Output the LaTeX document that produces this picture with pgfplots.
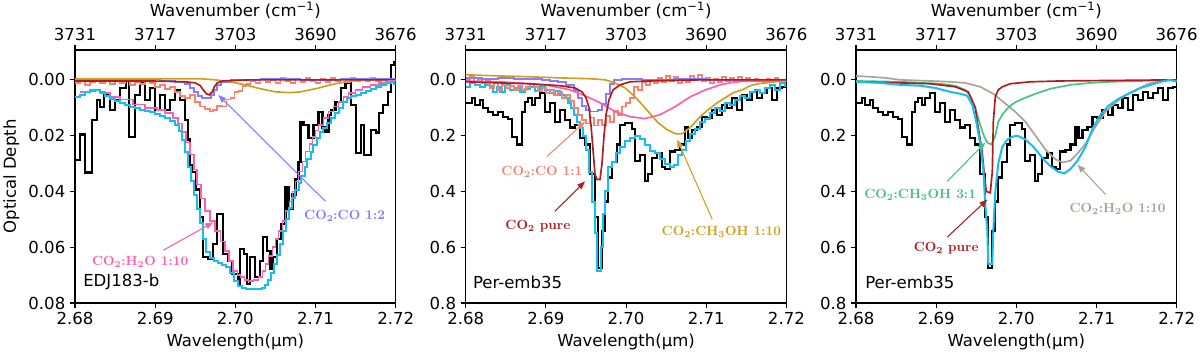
\documentclass[border=0pt]{standalone}
\usepackage{pgfplots}
\pgfplotsset{compat=1.18}
\usepackage{fontspec}
\setsansfont{DejaVu Sans}
\usetikzlibrary{arrows.meta}
\definecolor{cdata}{RGB}{0,0,0}
\definecolor{ccyan}{RGB}{20,190,240}
\definecolor{cpink}{RGB}{255,95,170}
\definecolor{csalmon}{RGB}{250,128,114}
\definecolor{clav}{RGB}{135,125,250}
\definecolor{cred}{RGB}{178,28,30}
\definecolor{cgold}{RGB}{205,160,30}
\definecolor{cgreen}{RGB}{70,195,130}
\definecolor{cgray}{RGB}{168,163,148}
\newcommand\axfont{\sffamily\fontsize{12.4}{14}\selectfont}
\newcommand\anfont{\rmfamily\bfseries\fontsize{10}{12}\selectfont}
\tikzset{ann/.style={line width=0.8pt, -{Triangle[length=6pt,width=4.5pt]}}}
\pgfplotsset{
 panel/.style={scale only axis, width=240.5pt, height=189.75pt,
  xmin=2.68, xmax=2.72, y dir=reverse,
  scaled x ticks=false, scaled y ticks=false,
  axis line style={line width=0.8pt},
  tick style={line width=0.8pt, black}, tick align=outside, major tick length=3.75pt,
  xtick pos=lower, ytick pos=left,
  xtick={2.68,2.69,2.70,2.71,2.72}, xticklabels={2.68,2.69,2.70,2.71,2.72},
  ticklabel style={font=\axfont}, label style={font=\axfont},
  xlabel={Wavelength(μm)}},
 toppanel/.style={scale only axis, width=240.5pt, height=189.75pt,
  xmin=2.68, xmax=2.72, axis y line=none, axis x line*=top, x axis line style={-},
  scaled x ticks=false,
  tick style={line width=0.8pt, black}, xtick align=outside, major tick length=3.75pt,
  xtick={2.68,2.69,2.70,2.71,2.72}, xticklabels={3731,3717,3703,3690,3676},
  ticklabel style={font=\axfont}, label style={font=\axfont},
  xlabel={Wavenumber (cm\textsuperscript{−1})}},
 dat/.style={const plot, line width=1.6pt, cdata},
}
\begin{document}
\begin{tikzpicture}
\useasboundingbox (0,0) rectangle (900pt,267.75pt);
% ================= Panel 1 =================
\begin{axis}[panel, at={(56.25pt,40.5pt)}, anchor=south west,
  ymin=-0.0107, ymax=0.08,
  ytick={0,0.02,0.04,0.06,0.08}, yticklabels={0.00,0.02,0.04,0.06,0.08},
  ylabel={Optical Depth}]
\addplot[dat] coordinates {
(2.68000,0.0286)(2.68063,0.0196)(2.68125,0.0332)(2.68213,0.0143)(2.68275,0.0071)
(2.68313,0.0096)(2.68363,0.0054)(2.68438,0.0107)(2.68500,0.0071)(2.68563,0.0029)
(2.68638,0.0000)(2.68675,0.0204)(2.68750,0.0054)(2.68813,0.0011)(2.68875,0.0071)
(2.68938,0.0029)(2.69000,0.0107)(2.69063,0.0054)(2.69125,0.0107)(2.69188,0.0071)
(2.69250,0.0036)(2.69313,0.0071)(2.69375,0.0143)(2.69413,0.0214)(2.69438,0.0304)
(2.69463,0.0329)(2.69513,0.0393)(2.69563,0.0493)(2.69600,0.0636)(2.69663,0.0643)
(2.69725,0.0589)(2.69775,0.0482)(2.69850,0.0625)(2.69913,0.0650)(2.69963,0.0696)
(2.70038,0.0732)(2.70063,0.0607)(2.70113,0.0625)(2.70150,0.0732)(2.70188,0.0636)
(2.70250,0.0707)(2.70313,0.0650)(2.70350,0.0564)(2.70400,0.0614)(2.70438,0.0679)
(2.70475,0.0636)(2.70525,0.0571)(2.70575,0.0518)(2.70625,0.0386)(2.70663,0.0464)
(2.70713,0.0411)(2.70750,0.0357)(2.70788,0.0293)(2.70813,0.0150)(2.70850,0.0161)
(2.70913,0.0207)(2.70975,0.0161)(2.71038,0.0114)(2.71088,0.0171)(2.71125,0.0186)
(2.71163,0.0125)(2.71188,0.0107)(2.71250,0.0079)(2.71313,0.0029)(2.71375,0.0011)
(2.71438,0.0089)(2.71500,0.0261)(2.71563,0.0161)(2.71600,0.0268)(2.71688,0.0179)
(2.71750,0.0189)(2.71788,0.0118)(2.71838,0.0089)(2.71900,0.0043)(2.71938,-0.0054)
(2.71975,-0.0064)(2.72000,-0.0064)};
\addplot[const plot, line width=1.25pt, csalmon] coordinates {
(2.68000,0.0011)(2.68063,0.0004)(2.68125,0.0018)(2.68188,0.0007)(2.68250,-0.0004)
(2.68313,0.0011)(2.68375,0.0004)(2.68438,0.0014)(2.68500,0.0000)(2.68563,0.0011)
(2.68625,0.0004)(2.68688,0.0018)(2.68750,0.0007)(2.68813,0.0014)(2.68875,0.0004)
(2.68938,0.0011)(2.69000,0.0025)(2.69063,0.0018)(2.69125,0.0032)(2.69188,0.0025)
(2.69250,0.0043)(2.69313,0.0057)(2.69375,0.0064)(2.69438,0.0054)(2.69500,0.0079)
(2.69563,0.0096)(2.69625,0.0104)(2.69688,0.0114)(2.69725,0.0107)(2.69775,0.0093)
(2.69838,0.0096)(2.69888,0.0071)(2.69938,0.0064)(2.69988,0.0043)(2.70038,0.0039)
(2.70088,0.0021)(2.70138,0.0014)(2.70188,0.0004)(2.70250,0.0011)(2.70313,-0.0004)
(2.70375,0.0007)(2.70438,0.0000)(2.70500,0.0011)(2.70563,-0.0007)(2.70625,0.0004)
(2.70688,0.0011)(2.70750,-0.0004)(2.70813,0.0007)(2.70875,-0.0007)(2.70938,0.0004)
(2.71000,0.0011)(2.71063,-0.0004)(2.71125,0.0007)(2.71188,-0.0007)(2.71250,0.0004)
(2.71313,-0.0004)(2.71375,0.0007)(2.71438,-0.0007)(2.71500,0.0004)(2.71563,-0.0004)
(2.71625,0.0004)(2.71688,-0.0007)(2.71750,0.0004)(2.71813,-0.0004)(2.71875,0.0007)
(2.71938,0.0000)(2.72000,0.0004)};
\addplot[const plot, line width=1.25pt, clav] coordinates {
(2.68000,-0.0004)(2.68313,0.0000)(2.68688,-0.0004)(2.69063,0.0004)(2.69250,0.0007)
(2.69375,0.0014)(2.69438,0.0029)(2.69488,0.0043)(2.69538,0.0057)(2.69588,0.0064)
(2.69663,0.0064)(2.69700,0.0054)(2.69738,0.0036)(2.69775,0.0018)(2.69825,0.0007)
(2.69938,0.0000)(2.70313,-0.0004)(2.70813,0.0000)(2.71313,-0.0004)(2.72000,0.0000)};
\addplot[line width=1.25pt, cgold] coordinates {
(2.68000,-0.0004)(2.69563,-0.0004)(2.69750,0.0000)(2.69938,0.0007)(2.70125,0.0018)
(2.70313,0.0032)(2.70500,0.0043)(2.70688,0.0046)(2.70813,0.0043)(2.71000,0.0032)
(2.71188,0.0018)(2.71375,0.0007)(2.71563,0.0000)(2.72000,0.0000)};
\addplot[line width=1.25pt, cred] coordinates {
(2.68000,0.0004)(2.68938,0.0004)(2.69375,0.0007)(2.69500,0.0011)(2.69563,0.0021)
(2.69600,0.0036)(2.69638,0.0050)(2.69675,0.0054)(2.69713,0.0043)(2.69738,0.0025)
(2.69775,0.0011)(2.69838,0.0004)(2.70188,0.0000)(2.72000,0.0000)};
\addplot[const plot, line width=1.25pt, cpink] coordinates {
(2.68063,0.0043)(2.68188,0.0036)(2.68313,0.0046)(2.68438,0.0061)(2.68563,0.0071)
(2.68725,0.0089)(2.68875,0.0100)(2.69025,0.0107)(2.69125,0.0118)(2.69225,0.0136)
(2.69288,0.0157)(2.69338,0.0186)(2.69388,0.0225)(2.69438,0.0268)(2.69488,0.0321)
(2.69525,0.0375)(2.69575,0.0425)(2.69625,0.0471)(2.69688,0.0507)(2.69750,0.0543)
(2.69813,0.0579)(2.69875,0.0614)(2.69925,0.0650)(2.69975,0.0686)(2.70025,0.0700)
(2.70063,0.0707)(2.70113,0.0718)(2.70163,0.0721)(2.70225,0.0718)(2.70288,0.0707)
(2.70338,0.0686)(2.70375,0.0661)(2.70413,0.0632)(2.70463,0.0600)(2.70500,0.0571)
(2.70538,0.0543)(2.70588,0.0507)(2.70625,0.0471)(2.70675,0.0436)(2.70713,0.0400)
(2.70750,0.0364)(2.70788,0.0329)(2.70838,0.0293)(2.70875,0.0257)(2.70925,0.0229)
(2.70963,0.0204)(2.71000,0.0182)(2.71038,0.0161)(2.71100,0.0136)(2.71163,0.0114)
(2.71225,0.0096)(2.71288,0.0079)(2.71350,0.0061)(2.71413,0.0046)(2.71500,0.0036)
(2.71588,0.0025)(2.71688,0.0018)(2.71788,0.0011)(2.71913,0.0004)(2.72000,0.0004)};
\addplot[const plot, line width=1.5pt, ccyan] coordinates {
(2.68000,0.0061)(2.68063,0.0054)(2.68125,0.0043)(2.68188,0.0039)(2.68250,0.0036)
(2.68313,0.0043)(2.68375,0.0057)(2.68438,0.0068)(2.68500,0.0075)(2.68563,0.0082)
(2.68625,0.0091)(2.68688,0.0098)(2.68750,0.0102)(2.68813,0.0109)(2.68875,0.0113)
(2.68938,0.0116)(2.69000,0.0123)(2.69063,0.0129)(2.69125,0.0137)(2.69188,0.0147)
(2.69250,0.0162)(2.69300,0.0182)(2.69338,0.0214)(2.69375,0.0257)(2.69413,0.0314)
(2.69450,0.0364)(2.69488,0.0414)(2.69525,0.0464)(2.69563,0.0514)(2.69600,0.0571)
(2.69638,0.0618)(2.69688,0.0639)(2.69738,0.0650)(2.69788,0.0657)(2.69838,0.0664)
(2.69888,0.0671)(2.69938,0.0693)(2.69988,0.0721)(2.70038,0.0739)(2.70088,0.0746)
(2.70138,0.0750)(2.70338,0.0746)(2.70375,0.0736)(2.70413,0.0718)(2.70450,0.0693)
(2.70488,0.0661)(2.70525,0.0629)(2.70563,0.0589)(2.70600,0.0543)(2.70638,0.0500)
(2.70675,0.0461)(2.70713,0.0425)(2.70750,0.0396)(2.70788,0.0371)(2.70825,0.0343)
(2.70863,0.0311)(2.70900,0.0282)(2.70938,0.0257)(2.70975,0.0232)(2.71013,0.0207)
(2.71050,0.0186)(2.71088,0.0171)(2.71138,0.0154)(2.71188,0.0136)(2.71238,0.0118)
(2.71288,0.0100)(2.71338,0.0079)(2.71388,0.0064)(2.71438,0.0057)(2.71500,0.0054)
(2.71563,0.0046)(2.71625,0.0039)(2.71688,0.0032)(2.71750,0.0025)(2.71813,0.0018)
(2.71875,0.0011)(2.71938,0.0007)(2.71975,0.0014)(2.72000,0.0014)};
\draw[ann, clav] (axis cs:2.71125,0.0436) -- (axis cs:2.69788,0.0054);
\node[clav, font=\anfont] at (axis cs:2.71363,0.0489) {CO\textsubscript{2}:CO 1:2};
\draw[ann, cpink] (axis cs:2.6910,0.0611) -- (axis cs:2.69725,0.0511);
\node[cpink, font=\anfont] at (axis cs:2.68813,0.0654) {CO\textsubscript{2}:H\textsubscript{2}O 1:10};
\node[anchor=west, font=\axfont, inner sep=0pt] at (axis cs:2.681,0.0725) {EDJ183-b};
\end{axis}
\begin{axis}[toppanel, at={(56.25pt,40.5pt)}, anchor=south west, ymin=0, ymax=1]
\end{axis}
% ================= Panel 2 =================
\begin{axis}[panel, at={(349.3pt,40.5pt)}, anchor=south west,
  ymin=-0.107, ymax=0.8,
  ytick={0,0.2,0.4,0.6,0.8}, yticklabels={0.0,0.2,0.4,0.6,0.8}]
\addplot[dat] coordinates {
(2.68000,0.082)(2.68075,0.064)(2.68113,0.089)(2.68175,0.071)(2.68213,0.100)
(2.68275,0.114)(2.68338,0.125)(2.68400,0.114)(2.68463,0.132)(2.68525,0.139)
(2.68575,0.204)(2.68638,0.232)(2.68700,0.114)(2.68738,0.079)(2.68775,0.064)
(2.68825,0.089)(2.68863,0.064)(2.68925,0.046)(2.68988,0.114)(2.69050,0.082)
(2.69113,0.150)(2.69175,0.107)(2.69238,0.143)(2.69300,0.171)(2.69363,0.161)
(2.69425,0.207)(2.69488,0.232)(2.69550,0.339)(2.69613,0.493)(2.69650,0.675)
(2.69700,0.543)(2.69738,0.436)(2.69775,0.350)(2.69825,0.293)(2.69888,0.232)
(2.69925,0.161)(2.69988,0.154)(2.70075,0.175)(2.70113,0.292)(2.70175,0.268)
(2.70238,0.364)(2.70275,0.339)(2.70325,0.279)(2.70388,0.261)(2.70450,0.311)
(2.70488,0.321)(2.70550,0.257)(2.70613,0.250)(2.70675,0.232)(2.70738,0.171)
(2.70775,0.207)(2.70825,0.179)(2.70888,0.168)(2.70950,0.132)(2.71013,0.136)
(2.71075,0.107)(2.71138,0.125)(2.71200,0.089)(2.71263,0.100)(2.71325,0.064)
(2.71388,0.107)(2.71450,0.054)(2.71513,0.071)(2.71575,0.043)(2.71638,0.064)
(2.71700,0.046)(2.71763,0.029)(2.71825,0.071)(2.71888,0.029)(2.71950,0.025)
(2.72000,0.025)};
\addplot[const plot, line width=1.5pt, ccyan] coordinates {
(2.68000,0.025)(2.68050,0.011)(2.68113,0.018)(2.68175,0.025)(2.68238,0.018)
(2.68300,0.021)(2.68338,0.043)(2.68388,0.025)(2.68425,0.043)(2.68488,0.018)
(2.68550,0.036)(2.68613,0.029)(2.68675,0.043)(2.68738,0.032)(2.68800,0.025)
(2.68863,0.039)(2.68925,0.021)(2.68988,0.036)(2.69050,0.046)(2.69113,0.039)
(2.69175,0.054)(2.69238,0.064)(2.69275,0.082)(2.69313,0.100)(2.69350,0.125)
(2.69388,0.150)(2.69425,0.171)(2.69463,0.200)(2.69500,0.250)(2.69538,0.329)
(2.69575,0.439)(2.69613,0.550)(2.69638,0.686)(2.69688,0.600)(2.69713,0.482)
(2.69738,0.400)(2.69775,0.311)(2.69825,0.293)(2.69875,0.261)(2.69925,0.239)
(2.69988,0.221)(2.70050,0.207)(2.70113,0.200)(2.70175,0.211)(2.70238,0.232)
(2.70300,0.254)(2.70363,0.264)(2.70425,0.282)(2.70488,0.300)(2.70550,0.314)
(2.70600,0.307)(2.70650,0.271)(2.70700,0.250)(2.70750,0.221)(2.70800,0.193)
(2.70863,0.175)(2.70925,0.150)(2.70988,0.139)(2.71050,0.118)(2.71113,0.100)
(2.71175,0.111)(2.71238,0.082)(2.71300,0.089)(2.71363,0.071)(2.71425,0.057)
(2.71488,0.064)(2.71550,0.043)(2.71613,0.036)(2.71675,0.046)(2.71738,0.029)
(2.71800,0.018)(2.71863,0.036)(2.71925,0.011)(2.71988,0.021)(2.72000,0.021)};
\addplot[const plot, line width=1.25pt, csalmon] coordinates {
(2.6800,0.000)(2.6805,-0.011)(2.6810,0.007)(2.6815,-0.004)(2.6820,0.011)
(2.6825,0.000)(2.6830,0.029)(2.6835,0.011)(2.6840,0.036)(2.6845,0.018)
(2.6850,0.029)(2.6855,0.021)(2.6860,0.036)(2.6865,0.021)(2.6870,0.036)
(2.6875,0.025)(2.6880,0.014)(2.6885,0.025)(2.6890,0.039)(2.6895,0.029)
(2.6900,0.046)(2.6905,0.036)(2.6910,0.054)(2.6915,0.043)(2.6920,0.064)
(2.6925,0.054)(2.6930,0.075)(2.6935,0.100)(2.6940,0.125)(2.6945,0.143)
(2.6950,0.157)(2.6955,0.135)(2.6960,0.164)(2.6965,0.143)(2.6970,0.161)
(2.6975,0.129)(2.6980,0.150)(2.6985,0.111)(2.6990,0.125)(2.6995,0.096)
(2.7000,0.082)(2.7005,0.064)(2.7010,0.025)(2.7015,0.036)(2.7020,0.007)
(2.7025,0.018)(2.7030,0.000)(2.7035,0.011)(2.7040,-0.007)(2.7045,0.007)
(2.7050,-0.014)(2.7055,0.004)(2.7060,-0.011)(2.7065,0.011)(2.7070,-0.004)
(2.7075,0.007)(2.7080,-0.014)(2.7085,0.000)(2.7090,-0.018)(2.7095,0.004)
(2.7100,-0.007)(2.7105,0.011)(2.7110,-0.004)(2.7115,0.007)(2.7120,-0.011)
(2.7125,0.004)(2.7130,-0.007)(2.7135,0.007)(2.7140,-0.011)(2.7145,0.000)
(2.7150,-0.007)(2.7155,0.004)(2.7160,-0.004)(2.7165,0.000)(2.7170,0.007)
(2.7175,-0.004)(2.7180,0.004)(2.7185,-0.007)(2.7190,0.000)(2.7195,0.004)
(2.7200,0.004)};
\addplot[const plot, line width=1.25pt, clav] coordinates {
(2.6800,-0.007)(2.6820,-0.004)(2.6840,-0.007)(2.6860,-0.004)(2.6880,-0.004)
(2.6895,0.000)(2.6905,0.004)(2.6915,0.007)(2.6925,0.018)(2.6935,0.036)
(2.6940,0.064)(2.6945,0.093)(2.6950,0.107)(2.6955,0.114)(2.6960,0.114)
(2.6965,0.107)(2.6970,0.086)(2.6975,0.050)(2.6980,0.014)(2.6985,0.000)
(2.6995,-0.004)(2.7020,0.000)(2.7060,-0.004)(2.7100,0.000)(2.7150,0.004)
(2.7200,0.004)};
\addplot[line width=1.25pt, cpink] coordinates {
(2.68000,0.004)(2.68425,0.007)(2.68800,0.014)(2.69050,0.021)(2.69300,0.036)
(2.69488,0.057)(2.69675,0.082)(2.69863,0.114)(2.70050,0.132)(2.70238,0.139)
(2.70425,0.125)(2.70613,0.096)(2.70800,0.061)(2.70988,0.036)(2.71175,0.018)
(2.71363,0.007)(2.71550,0.004)(2.72000,0.000)};
\addplot[line width=1.25pt, cgold] coordinates {
(2.68000,-0.018)(2.68425,-0.014)(2.68800,-0.011)(2.69175,-0.007)(2.69550,-0.004)
(2.69738,0.000)(2.69863,0.011)(2.69988,0.029)(2.70113,0.061)(2.70200,0.089)
(2.70300,0.121)(2.70400,0.154)(2.70513,0.179)(2.70613,0.193)(2.70700,0.193)
(2.70800,0.171)(2.70925,0.132)(2.71025,0.107)(2.71138,0.082)(2.71238,0.064)
(2.71338,0.046)(2.71450,0.036)(2.71550,0.021)(2.71650,0.014)(2.71863,0.007)
(2.72000,0.004)};
\addplot[line width=1.25pt, cred] coordinates {
(2.68000,0.007)(2.68425,0.011)(2.68800,0.014)(2.69175,0.021)(2.69363,0.029)
(2.69450,0.043)(2.69500,0.064)(2.69538,0.100)(2.69563,0.164)(2.69588,0.250)
(2.69613,0.340)(2.69638,0.357)(2.69675,0.357)(2.69700,0.300)(2.69725,0.200)
(2.69750,0.125)(2.69788,0.071)(2.69838,0.036)(2.69925,0.018)(2.70050,0.007)
(2.70300,0.004)(2.70925,0.000)(2.72000,0.000)};
\draw[ann, csalmon] (axis cs:2.69013,0.275) -- (axis cs:2.69488,0.150);
\node[csalmon, font=\anfont] at (axis cs:2.6895,0.329) {CO\textsubscript{2}:CO 1:1};
\draw[ann, cred] (axis cs:2.69113,0.471) -- (axis cs:2.69488,0.364);
\node[cred, font=\anfont] at (axis cs:2.689,0.525) {CO\textsubscript{2} pure};
\draw[ann, cgold] (axis cs:2.71075,0.50) -- (axis cs:2.70638,0.214);
\node[cgold, font=\anfont] at (axis cs:2.71188,0.546) {CO\textsubscript{2}:CH\textsubscript{3}OH 1:10};
\node[anchor=west, font=\axfont, inner sep=0pt] at (axis cs:2.68088,0.725) {Per-emb35};
\end{axis}
\begin{axis}[toppanel, at={(349.3pt,40.5pt)}, anchor=south west, ymin=0, ymax=1]
\end{axis}
% ================= Panel 3 =================
\begin{axis}[panel, at={(642pt,40.5pt)}, anchor=south west,
  ymin=-0.107, ymax=0.8,
  ytick={0,0.2,0.4,0.6,0.8}, yticklabels={0.0,0.2,0.4,0.6,0.8}]
\addplot[dat] coordinates {
(2.68000,0.082)(2.68075,0.064)(2.68113,0.089)(2.68175,0.071)(2.68213,0.100)
(2.68275,0.114)(2.68338,0.125)(2.68400,0.114)(2.68463,0.132)(2.68525,0.139)
(2.68575,0.204)(2.68638,0.232)(2.68700,0.114)(2.68738,0.079)(2.68775,0.064)
(2.68825,0.089)(2.68863,0.064)(2.68925,0.046)(2.68988,0.114)(2.69050,0.082)
(2.69113,0.150)(2.69175,0.107)(2.69238,0.143)(2.69300,0.171)(2.69363,0.161)
(2.69425,0.207)(2.69488,0.232)(2.69550,0.339)(2.69613,0.493)(2.69650,0.675)
(2.69700,0.543)(2.69738,0.436)(2.69775,0.350)(2.69825,0.293)(2.69888,0.232)
(2.69925,0.161)(2.69988,0.154)(2.70075,0.175)(2.70113,0.292)(2.70175,0.268)
(2.70238,0.364)(2.70275,0.339)(2.70325,0.279)(2.70388,0.261)(2.70450,0.311)
(2.70488,0.321)(2.70550,0.257)(2.70613,0.250)(2.70675,0.232)(2.70738,0.171)
(2.70775,0.207)(2.70825,0.179)(2.70888,0.168)(2.70950,0.132)(2.71013,0.136)
(2.71075,0.107)(2.71138,0.125)(2.71200,0.089)(2.71263,0.100)(2.71325,0.064)
(2.71388,0.107)(2.71450,0.054)(2.71513,0.071)(2.71575,0.043)(2.71638,0.064)
(2.71700,0.046)(2.71763,0.029)(2.71825,0.071)(2.71888,0.029)(2.71950,0.025)
(2.72000,0.025)};
\addplot[line width=1.25pt, cgray] coordinates {
(2.68000,-0.014)(2.68175,-0.011)(2.68363,-0.007)(2.68550,0.000)(2.68925,0.004)
(2.69175,0.007)(2.69363,0.011)(2.69550,0.025)(2.69713,0.050)(2.69863,0.085)
(2.69988,0.115)(2.70113,0.150)(2.70238,0.200)(2.70363,0.250)(2.70488,0.285)
(2.70575,0.296)(2.70675,0.290)(2.70763,0.264)(2.70863,0.229)(2.70988,0.168)
(2.71113,0.114)(2.71238,0.082)(2.71363,0.054)(2.71488,0.036)(2.71650,0.014)
(2.71800,0.004)(2.71900,0.000)(2.72000,0.004)};
\addplot[line width=1.25pt, cgreen] coordinates {
(2.68000,0.004)(2.68550,0.007)(2.69050,0.014)(2.69238,0.021)(2.69363,0.036)
(2.69425,0.057)(2.69488,0.100)(2.69538,0.150)(2.69588,0.196)(2.69638,0.225)
(2.69688,0.232)(2.69738,0.200)(2.69775,0.150)(2.69825,0.125)(2.69875,0.107)
(2.69925,0.093)(2.69988,0.080)(2.70113,0.064)(2.70238,0.050)(2.70425,0.032)
(2.70675,0.018)(2.70925,0.011)(2.71175,0.007)(2.71550,0.004)(2.72000,0.000)};
\addplot[line width=1.25pt, cred] coordinates {
(2.68000,0.007)(2.68550,0.011)(2.68925,0.014)(2.69238,0.025)(2.69400,0.043)
(2.69488,0.100)(2.69525,0.171)(2.69575,0.260)(2.69600,0.340)(2.69625,0.400)
(2.69675,0.405)(2.69700,0.330)(2.69713,0.150)(2.69738,0.060)(2.69775,0.036)
(2.69825,0.025)(2.69925,0.014)(2.70175,0.007)(2.70550,0.004)(2.72000,0.000)};
\addplot[line width=1.5pt, ccyan] coordinates {
(2.68000,0.007)(2.68300,0.011)(2.68550,0.018)(2.68800,0.021)(2.68988,0.029)
(2.69175,0.043)(2.69300,0.050)(2.69388,0.057)(2.69450,0.090)(2.69500,0.150)
(2.69550,0.230)(2.69588,0.320)(2.69613,0.450)(2.69638,0.540)(2.69650,0.660)
(2.69700,0.660)(2.69713,0.540)(2.69738,0.400)(2.69775,0.300)(2.69825,0.240)
(2.69888,0.214)(2.69950,0.204)(2.70013,0.200)(2.70113,0.214)(2.70213,0.240)
(2.70325,0.280)(2.70425,0.310)(2.70525,0.330)(2.70600,0.335)(2.70675,0.320)
(2.70763,0.290)(2.70863,0.240)(2.70950,0.175)(2.71050,0.125)(2.71150,0.093)
(2.71275,0.068)(2.71400,0.050)(2.71550,0.029)(2.71675,0.018)(2.71800,0.007)
(2.71925,0.000)(2.72000,0.007)};
\draw[ann, cgreen] (axis cs:2.69138,0.364) -- (axis cs:2.69613,0.225);
\node[cgreen, font=\anfont] at (axis cs:2.688,0.411) {CO\textsubscript{2}:CH\textsubscript{3}OH 3:1};
\draw[ann, cred] (axis cs:2.69138,0.564) -- (axis cs:2.69638,0.429);
\node[cred, font=\anfont] at (axis cs:2.69125,0.604) {CO\textsubscript{2} pure};
\draw[ann, cgray] (axis cs:2.71113,0.411) -- (axis cs:2.70763,0.304);
\node[cgray, font=\anfont] at (axis cs:2.71263,0.461) {CO\textsubscript{2}:H\textsubscript{2}O 1:10};
\node[anchor=west, font=\axfont, inner sep=0pt] at (axis cs:2.68113,0.725) {Per-emb35};
\end{axis}
\begin{axis}[toppanel, at={(642pt,40.5pt)}, anchor=south west, ymin=0, ymax=1]
\end{axis}
\end{tikzpicture}
\end{document}
